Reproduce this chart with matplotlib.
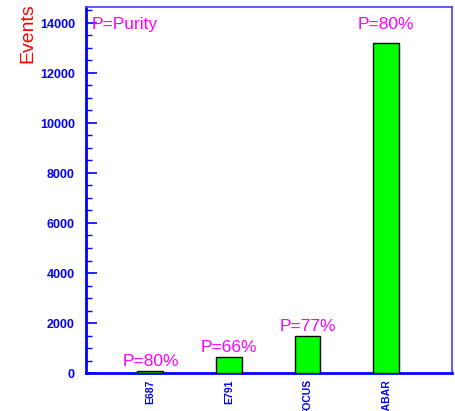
import matplotlib.pyplot as plt
from matplotlib.ticker import MultipleLocator

# event yields and purity per experiment
experiments = ['E687', 'E791', 'FOCUS', 'BABAR']
events = [100, 630, 1480, 13200]
purity = ['P=80%', 'P=66%', 'P=77%', 'P=80%']

blue = '#0000ff'
magenta = '#ff00ff'
plt.rcParams['font.family'] = ['Liberation Sans', 'DejaVu Sans']

fig = plt.figure(figsize=(4.56, 4.11), dpi=100)
ax = fig.add_axes([86 / 456, 38 / 411, 366 / 456, 366 / 411])

pos = list(range(1, len(experiments) + 1))
ax.bar(pos, events, width=0.33, color='#00ff00', edgecolor='black', linewidth=1, zorder=3)

# purity label sits a little above each bar
for x, y, lab in zip(pos, events, purity):
    ax.text(x, y * 1.03 + 175, lab, ha='center', va='baseline', color=magenta, fontsize=12.5)

ax.text(0.015, 0.94, 'P=Purity', transform=ax.transAxes, color=magenta,
        fontsize=12.5, ha='left', va='baseline')

ax.set_xlim(0.18, 4.84)
ax.set_ylim(0, 14640)
ax.set_xticks(pos)
ax.set_xticklabels(experiments, rotation=90, color=blue, fontsize=7.5, fontweight='bold')
ax.tick_params(axis='x', length=0, pad=4.5)

ax.yaxis.set_major_locator(MultipleLocator(2000))
ax.yaxis.set_minor_locator(MultipleLocator(500))
ax.tick_params(axis='y', which='major', direction='in', length=8, width=1.2,
               color=blue, labelcolor=blue, labelsize=9, pad=8)
ax.tick_params(axis='y', which='minor', direction='in', length=4, width=1, color=blue)
for t in ax.get_yticklabels():
    t.set_fontweight('bold')

for side in ['left', 'bottom']:
    ax.spines[side].set_color(blue)
    ax.spines[side].set_linewidth(2)
for side in ['top', 'right']:
    ax.spines[side].set_color('#4040ff')
    ax.spines[side].set_linewidth(1.2)

fig.text(28 / 456, 1 - 33 / 411, 'Events', rotation=90, color='red',
         fontsize=14, ha='center', va='center')

fig.savefig('out.png', dpi=100)
